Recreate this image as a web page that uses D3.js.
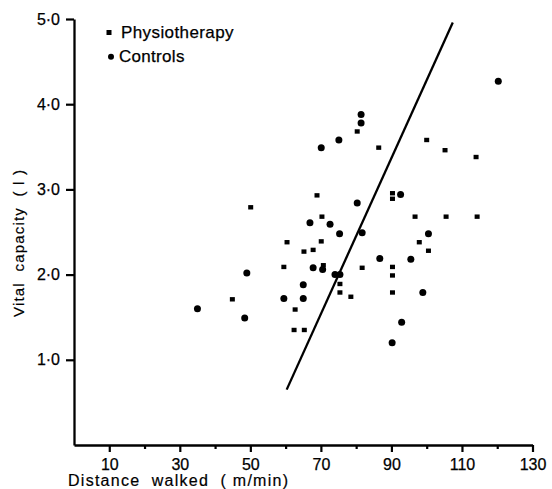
<!DOCTYPE html>
<html>
<head>
<meta charset="utf-8">
<script src="https://cdn.jsdelivr.net/npm/d3@7"></script>
<style>
  html, body { margin: 0; padding: 0; background: #fff; }
  svg { display: block; }
  text { font-family: "Liberation Sans", Arial, sans-serif; fill: #000; }
</style>
</head>
<body>
<svg id="chart" width="552" height="489"></svg>
<script>
// ---- data ----
const physioX = [80.3, 86.4, 50.1, 68.9, 70.3, 60.4, 70.1, 65.2, 67.8, 59.5, 70.7, 81.7, 75.4, 44.9, 75.4, 78.5, 62.7, 62.4, 65.3, 100.0, 105.2, 114.0, 90.3, 90.3, 96.7, 105.5, 114.3, 97.9, 100.5, 90.3, 90.3, 90.3];
const physioY = [3.68, 3.49, 2.79, 2.93, 2.68, 2.38, 2.39, 2.27, 2.29, 2.09, 2.11, 2.08, 1.89, 1.71, 1.79, 1.74, 1.59, 1.35, 1.35, 3.58, 3.46, 3.38, 2.955, 2.89, 2.68, 2.68, 2.68, 2.38, 2.28, 2.09, 1.99, 1.79];
const controlX = [81.4, 81.4, 75.1, 70.1, 80.3, 66.9, 72.6, 75.3, 81.7, 49.0, 67.8, 70.5, 74.0, 75.4, 86.7, 65.0, 59.5, 65.0, 35.0, 48.4, 120.3, 92.6, 100.5, 95.5, 98.9, 92.9, 90.2];
const controlY = [3.88, 3.78, 3.58, 3.49, 2.84, 2.61, 2.59, 2.48, 2.49, 2.02, 2.08, 2.06, 2.00, 2.00, 2.19, 1.88, 1.72, 1.72, 1.60, 1.49, 4.27, 2.94, 2.48, 2.18, 1.79, 1.44, 1.20];
const lineX = [60.3, 107.4];
const lineY = [0.65, 4.96];
const xMajorTicks = [10, 30, 50, 70, 90, 110, 130];
const xMinorTicks = [20, 40, 60, 80, 100, 120];
const yTicks = [1, 2, 3, 4, 5];
const legendLabels = ["Physiotherapy", "Controls"];
const xTitle = "Distance  walked  ( m/min)";
const yTitle = "Vital  capacity  ( l )";

// ---- chart ----
const svg = d3.select("#chart");
const x = d3.scaleLinear().domain([0, 130]).range([74, 532.5]);
const y = d3.scaleLinear().domain([0, 5]).range([445, 19]);

// x axis
const gx = svg.append("g").attr("transform", "translate(0,445)");
gx.call(d3.axisBottom(x).tickValues(xMajorTicks).tickSize(7).tickSizeOuter(0).tickPadding(7));
const gxm = svg.append("g").attr("transform", "translate(0,445)");
gxm.call(d3.axisBottom(x).tickValues(xMinorTicks).tickSize(4).tickFormat(""));
gxm.select(".domain").remove();

// y axis
const gy = svg.append("g").attr("transform", "translate(74,0)");
gy.call(d3.axisLeft(y).tickValues(yTicks).tickSize(8).tickSizeOuter(0).tickPadding(6)
  .tickFormat(d => d.toFixed(1).replace(".", "\u00B7")));

svg.selectAll(".domain").attr("stroke", "#000").attr("stroke-width", 2.3);
svg.selectAll(".tick line").attr("stroke", "#000").attr("stroke-width", 2.2);
svg.selectAll(".tick text").attr("font-size", 16).attr("font-family", "Liberation Sans, Arial, sans-serif")
  .attr("fill", "#000").attr("stroke", "#000").attr("stroke-width", 0.25);

// regression line
svg.append("line")
  .attr("x1", x(lineX[0])).attr("y1", y(lineY[0]))
  .attr("x2", x(lineX[1])).attr("y2", y(lineY[1]))
  .attr("stroke", "#000").attr("stroke-width", 2.3);

// physiotherapy squares
svg.append("g").selectAll("rect").data(d3.range(physioX.length)).join("rect")
  .attr("x", i => x(physioX[i]) - 2.5)
  .attr("y", i => y(physioY[i]) - 2.2)
  .attr("width", 5).attr("height", 4.4)
  .attr("fill", "#000");

// controls circles
svg.append("g").selectAll("circle").data(d3.range(controlX.length)).join("circle")
  .attr("cx", i => x(controlX[i]))
  .attr("cy", i => y(controlY[i]))
  .attr("r", 3.5)
  .attr("fill", "#000");

// legend
svg.append("rect").attr("x", 106.5).attr("y", 30).attr("width", 5).attr("height", 5).attr("fill", "#000");
svg.append("text").attr("x", 121).attr("y", 38).attr("font-size", 17).attr("letter-spacing", 0.4)
  .attr("stroke", "#000").attr("stroke-width", 0.25).text(legendLabels[0]);
svg.append("circle").attr("cx", 111).attr("cy", 56.7).attr("r", 3).attr("fill", "#000");
svg.append("text").attr("x", 119).attr("y", 62).attr("font-size", 17).attr("letter-spacing", 0.3)
  .attr("stroke", "#000").attr("stroke-width", 0.25).text(legendLabels[1]);

// titles
svg.append("text").attr("x", 68).attr("y", 486).attr("font-size", 16)
  .attr("textLength", 220).attr("lengthAdjust", "spacing")
  .attr("stroke", "#000").attr("stroke-width", 0.2)
  .style("white-space", "pre").text(xTitle);
svg.append("text").attr("transform", "translate(24,317) rotate(-90)")
  .attr("x", 0).attr("y", 0).attr("font-size", 15)
  .attr("textLength", 147).attr("lengthAdjust", "spacing")
  .attr("stroke", "#000").attr("stroke-width", 0.2)
  .style("white-space", "pre").text(yTitle);
</script>
</body>
</html>
